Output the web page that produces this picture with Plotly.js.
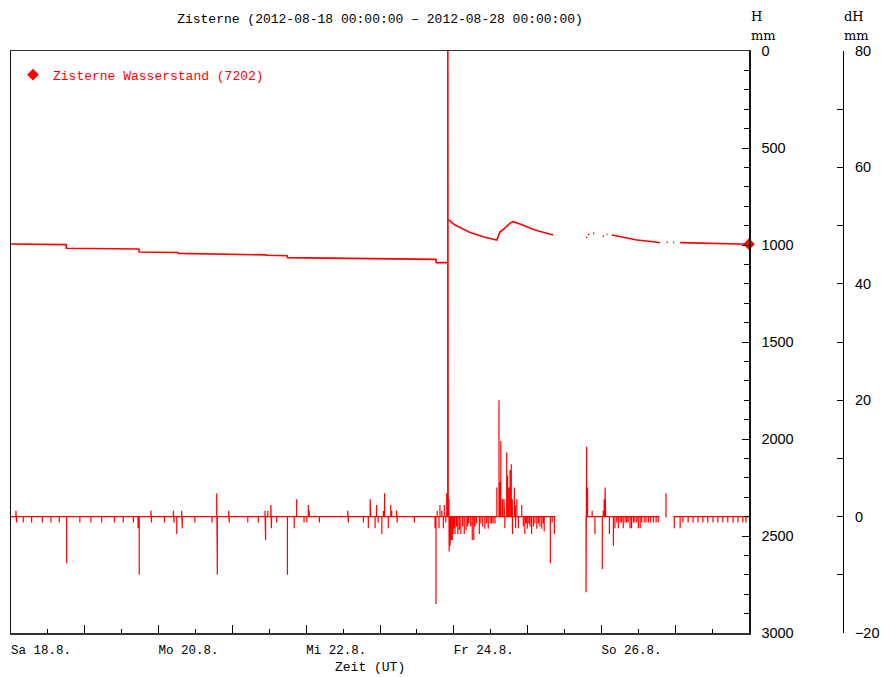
<!DOCTYPE html>
<html>
<head>
<meta charset="utf-8">
<script src="https://cdn.plot.ly/plotly-3.0.1.min.js"></script>
<style>html,body{margin:0;padding:0;background:#fff;}#chart{width:881px;height:677px;}</style>
</head>
<body>
<div id="chart"></div>
<script>
// ---- data (hours after 2012-08-18 00:00 UT) ----
var startDate = '2012-08-18 00:00:00';
var endDate = '2012-08-28 00:00:00';
var dayTicks = ['2012-08-18','2012-08-19','2012-08-20','2012-08-21','2012-08-22','2012-08-23','2012-08-24','2012-08-25','2012-08-26','2012-08-27','2012-08-28'];
var dayLabels = ['Sa 18.8.','','Mo 20.8.','','Mi 22.8.','','Fr 24.8.','','So 26.8.','',''];

// Wasserstand H (mm); null = no data
var H_hours = [0,17.9,18.0,41.6,41.7,54.3,54.4,67.0,67.1,83.1,83.2,89.8,89.9,115,138.2,138.3,141.9,
  142.0,142.1,144.4,149.3,154.1,158.0,159.0,160.7,162.3,163.3,165.5,170.4,176.3,
  177,187.0,187.4,187.5,187.6,188.1,188.2,189.3,189.7,190,192.4,192.8,193,193.7,194.0,
  194.5,195.4,198.1,203.5,208.9,211.1,212,213.2,213.6,214,215.3,215.7,216,217.6,225,232,240];
var H_vals = [995,998,1017,1021,1036,1039,1043,1045,1048,1051,1053,1055,1065,1068,1074,1091,1091,
  null,868,897,935,960,974,933,912,887,880,892,923,948,
  null,960,960,null,945,945,null,940,940,null,954,954,null,945,945,
  null,948,957,974,983,988,null,986,986,null,987,987,null,988,991,994,996];

// dH (mm) impulses
var dH_hours = [1.6,1.8,4.0,6.7,10.2,13.0,15.7,18.1,22.4,26.0,29.5,33.6,36.5,39.8,41.3,41.7,45.5,45.7,49.9,
  52.8,53.0,53.9,55.5,55.7,59.8,65.4,66.9,67.1,70.8,71.0,77.0,80.4,82.6,82.8,83.5,84.5,84.7,86.4,89.9,
  92.1,92.9,95.3,96.2,96.7,97.0,100.3,109.5,109.7,114.6,116.2,116.8,117.0,118.4,118.9,119.4,120.6,121.1,
  121.5,122.7,123.5,123.8,125.4,125.6,131.2,137.9,138.2,138.6,139.2,139.5,140.1,140.6,140.9,141.4,141.7,
  142.0,142.2,142.4,142.5,142.8,143.1,143.5,143.8,144.1,144.4,144.9,145.3,145.8,146.3,146.9,147.4,148.0,
  148.5,148.9,149.5,150.0,150.5,150.9,151.4,152.3,152.8,153.4,154.1,154.7,155.2,155.8,156.3,156.8,157.4,
  158.0,158.7,159.0,159.3,159.8,160.3,160.5,160.6,161.2,161.5,161.9,162.3,162.7,163.0,163.1,163.7,164.0,
  164.1,164.5,165.0,166.1,166.6,167.1,167.5,167.9,168.4,168.8,169.3,169.9,170.4,171.0,171.5,172.0,172.6,
  173.1,173.4,175.4,176.0,176.7,
  187.0,187.2,187.5,189.0,189.9,192.3,192.6,192.9,193.2,193.4,194.6,195.9,196.4,197.0,197.5,198.1,198.6,
  199.1,199.7,200.2,200.7,201.3,201.8,202.4,202.9,203.5,204.0,204.6,205.1,205.9,206.5,207.3,208.0,208.9,
  209.8,210.5,213.0,215.7,217.6,218.5,220.2,221.8,223.4,225.0,226.6,228.3,229.9,231.5,233.1,234.8,236.4,
  238.0,239.0];
var dH_vals = [1,-1,-1,-1,-1,-1,-1,-8,-1,-1,-1,-1,-1,-1,-2,-10,1,-1,-1,
  1,-1,-3,1,-2,-1,-1,4,-10,1,-1,-1,-1,1,-4,1,2,-2,-1,-10,
  -2,3,-1,-1,2,1,-1,1,-1,-1,-2,3,1,-2,2,-1,-3,1,
  4,-2,2,1,1,-1,-1,-2,-15,1,-2,2,1,-2,2,-1,4,
  222,11,3,-6,-5,-4,-4,-3,-2,-3,-1.7,-3,-2.3,-3,-1.7,-3,-2.3,
  -1.7,-1.2,-1.7,-4,-4,-1.7,-1.2,-3,-1.2,-1.7,-2.1,-1.2,-2.1,-1.2,-1.2,-1.2,-1.2,
  5,20,6,13,3,3,1,-2,11,7,5,8,9,3,-3,5,2,
  -2,3,-2,2,-1.7,-3,-1.2,-2.1,-1.2,-1.7,-3,-1.7,-1.2,-2.1,-1.2,-1.7,-2.1,
  -1.2,-2.5,-8,-1,-3,
  -13,12,5,1,-3,-9,1,3,5,1,-3,-5,-2,-1,-2,-1,-1,
  -2,-1,-1,-1,-2,-2,-1,-1,-1,-2,-2,-1,-1,-1,-1,-1,-1,
  -1,-1,4,-2,-2,-1,-1,-1,-1,-1,-1,-1,-1,-1,-1,-1,-1,
  -1,-1];
var dH_gaps = [[177.0,186.9],[210.8,212.8],[213.3,215.4]];

var legendName = 'Zisterne Wasserstand (7202)';

// ---- build traces ----
var t0 = Date.UTC(2012,7,18);
function toDate(h){ return new Date(t0 + h*3600000).toISOString().replace('T',' ').slice(0,19); }

var hx = H_hours.map(toDate);

var dx = [toDate(0)], dy = [0];
var gi = 0;
for (var i=0;i<dH_hours.length;i++){
  var t = dH_hours[i];
  while (gi < dH_gaps.length && dH_gaps[gi][0] < t){
    dx.push(toDate(dH_gaps[gi][0])); dy.push(0);
    dx.push(null); dy.push(null);
    dx.push(toDate(dH_gaps[gi][1])); dy.push(0);
    gi++;
  }
  var d = toDate(t);
  dx.push(d,d,d); dy.push(0,dH_vals[i],0);
}
dx.push(toDate(240)); dy.push(0);

var traces = [
  {x: hx, y: H_vals, type:'scatter', mode:'lines', line:{color:'#ff0000', width:1.6}, showlegend:false, hoverinfo:'skip', yaxis:'y'},
  {x: dx, y: dy, type:'scatter', mode:'lines', line:{color:'#ff0000', width:1.2}, showlegend:false, hoverinfo:'skip', yaxis:'y2'},
  {x: [hx[hx.length-1]], y: [H_vals[H_vals.length-1]], type:'scatter', mode:'markers', name: legendName,
   marker:{symbol:'diamond', size:9, color:'#ff0000'}, cliponaxis:false, yaxis:'y'}
];

var axFont = {family:'Liberation Sans, Arial, sans-serif', size:14.5, color:'#000'};
var hdrFont = {family:'DejaVu Serif, serif', size:13, color:'#000'};
var layout = {
  width:881, height:677,
  margin:{l:11, r:38, t:51, b:44, pad:0},
  paper_bgcolor:'#fff', plot_bgcolor:'#fff',
  title:{text:'Zisterne (2012-08-18 00:00:00 \u2013 2012-08-28 00:00:00)', font:{family:'Liberation Mono, monospace', size:13, color:'#000'},
    xref:'paper', x:0.4435, xanchor:'center', yref:'container', y:0.9734, yanchor:'middle'},
  xaxis:{type:'date', domain:[0,0.88702], range:[startDate,endDate], tickmode:'array', tickvals:dayTicks, ticktext:dayLabels,
    ticks:'inside', ticklen:8, tickcolor:'#000', tickwidth:1,
    minor:{dtick:43200000, tick0:startDate, ticks:'inside', ticklen:4, tickcolor:'#000', showgrid:false},
    showline:true, linecolor:'#333', linewidth:1.5, mirror:true, showgrid:false, zeroline:false,
    tickfont:{family:'Liberation Mono, monospace', size:12.5, color:'#000'}, ticklabelshift:30, ticklabelstandoff:4, fixedrange:true},
  yaxis:{range:[3000,0], side:'right', anchor:'x', tickmode:'linear', tick0:0, dtick:500,
    ticks:'inside', ticklen:7, tickcolor:'#000',
    minor:{dtick:100, ticks:'inside', ticklen:5, tickcolor:'#000', showgrid:false},
    showline:true, linecolor:'#111', linewidth:1.5, mirror:true, showgrid:false, zeroline:false,
    tickfont:axFont, ticklabelstandoff:8},
  yaxis2:{overlaying:'y', side:'right', anchor:'free', position:1, range:[-20,80], tickmode:'linear', tick0:0, dtick:20,
    ticks:'inside', ticklen:6, tickcolor:'#000',
    minor:{dtick:10, ticks:'inside', ticklen:6, tickcolor:'#000', showgrid:false},
    showline:true, linecolor:'#000', linewidth:1, showgrid:false, zeroline:false,
    tickfont:axFont, ticklabelstandoff:8},
  showlegend:true,
  legend:{x:0.0024, xanchor:'left', y:0.985, yanchor:'top', bgcolor:'rgba(0,0,0,0)',
    font:{family:'Liberation Mono, monospace', size:13, color:'#ff0000'}},
  annotations:[
    {text:'H', xref:'paper', yref:'paper', x:0.8882, y:(633-17)/582, xanchor:'left', yanchor:'middle', showarrow:false, borderpad:0, font:hdrFont},
    {text:'mm', xref:'paper', yref:'paper', x:0.8882, y:(633-35)/582, xanchor:'left', yanchor:'middle', showarrow:false, borderpad:0, font:hdrFont},
    {text:'dH', xref:'paper', yref:'paper', x:1.0, y:(633-17)/582, xanchor:'left', yanchor:'middle', showarrow:false, borderpad:0, font:hdrFont},
    {text:'mm', xref:'paper', yref:'paper', x:1.0, y:(633-35)/582, xanchor:'left', yanchor:'middle', showarrow:false, borderpad:0, font:hdrFont},
    {text:'Zeit (UT)', xref:'paper', yref:'paper', x:0.4315, y:(633-667)/582, xanchor:'center', yanchor:'middle', showarrow:false, borderpad:0,
     font:{family:'Liberation Mono, monospace', size:13, color:'#000'}}
  ]
};

Plotly.newPlot('chart', traces, layout, {displayModeBar:false, staticPlot:true});
</script>
</body>
</html>
